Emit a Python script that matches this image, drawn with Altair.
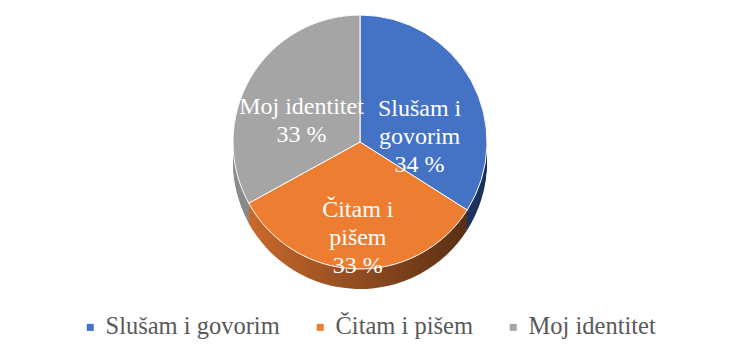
import altair as alt
import pandas as pd

# data
categories = ["Slušam i govorim", "Čitam i pišem", "Moj identitet"]
values = [34, 33, 33]
label_names = ["Slušam i\ngovorim", "Čitam i\npišem", "Moj identitet"]

# styles
colors = ["#4472C4", "#ED7D31", "#A5A5A5"]
side_stops = [("#2c4d86", "#1b3057"), ("#c8692c", "#5a2f15"), ("#8c8c8c", "#6a6a6a")]
FONT = "'Liberation Serif', 'Times New Roman', Tinos, 'DejaVu Serif', serif"

df = pd.DataFrame({"cat": categories, "value": values, "name": label_names,
                   "idx": list(range(len(categories)))})

CX, CY, R, DEPTH = 352, 134, 127, 20


def grad(c1, c2):
    return {"gradient": "linear", "x1": 0, "y1": 0, "x2": 1, "y2": 0,
            "stops": [{"offset": 0, "color": c1}, {"offset": 1, "color": c2}]}


side_fill = alt.ColorValue(
    grad(*side_stops[2]),
    condition=[
        {"test": "datum.idx == 0", "value": grad(*side_stops[0])},
        {"test": "datum.idx == 1", "value": grad(*side_stops[1])},
    ],
)

base = alt.Chart(df)
theta = alt.Theta("value:Q", stack=True)
order = alt.Order("idx:Q")

layers = []
for off in range(DEPTH, 0, -2):
    layers.append(
        base.mark_arc(radius=R).encode(
            theta=theta, order=order, detail="cat:N",
            x=alt.value(CX), y=alt.value(CY + off), color=side_fill,
        )
    )

top = base.mark_arc(radius=R, stroke="white", strokeWidth=1).encode(
    theta=theta, order=order,
    x=alt.value(CX), y=alt.value(CY),
    color=alt.Color(
        "cat:N",
        scale=alt.Scale(domain=categories, range=colors),
        sort=categories,
        legend=alt.Legend(
            title=None, orient="none", direction="horizontal",
            legendX=70, legendY=307, symbolType="square", symbolSize=49,
            labelFont=FONT, labelFontSize=24.5, labelColor="#595959",
            labelOffset=3, columnPadding=28, symbolStrokeWidth=0, labelLimit=400,
        ),
    ),
)

labels = base.transform_calculate(
    label="datum.name + '\\n' + datum.value + ' %'"
).mark_text(
    radius=68, font=FONT, fontSize=24, color="white",
    lineBreak="\n", lineHeight=28, align="center", baseline="middle",
).encode(
    theta=theta, order=order, detail="cat:N",
    x=alt.value(CX), y=alt.value(CY), text="label:N",
)

chart = alt.layer(*layers, top, labels).properties(
    width=714, height=344, padding=0, autosize=alt.AutoSizeParams(type="none")
).configure(font=FONT).configure_view(stroke=None)

chart.save("out.html", embed_options={"renderer": "svg", "actions": False})
